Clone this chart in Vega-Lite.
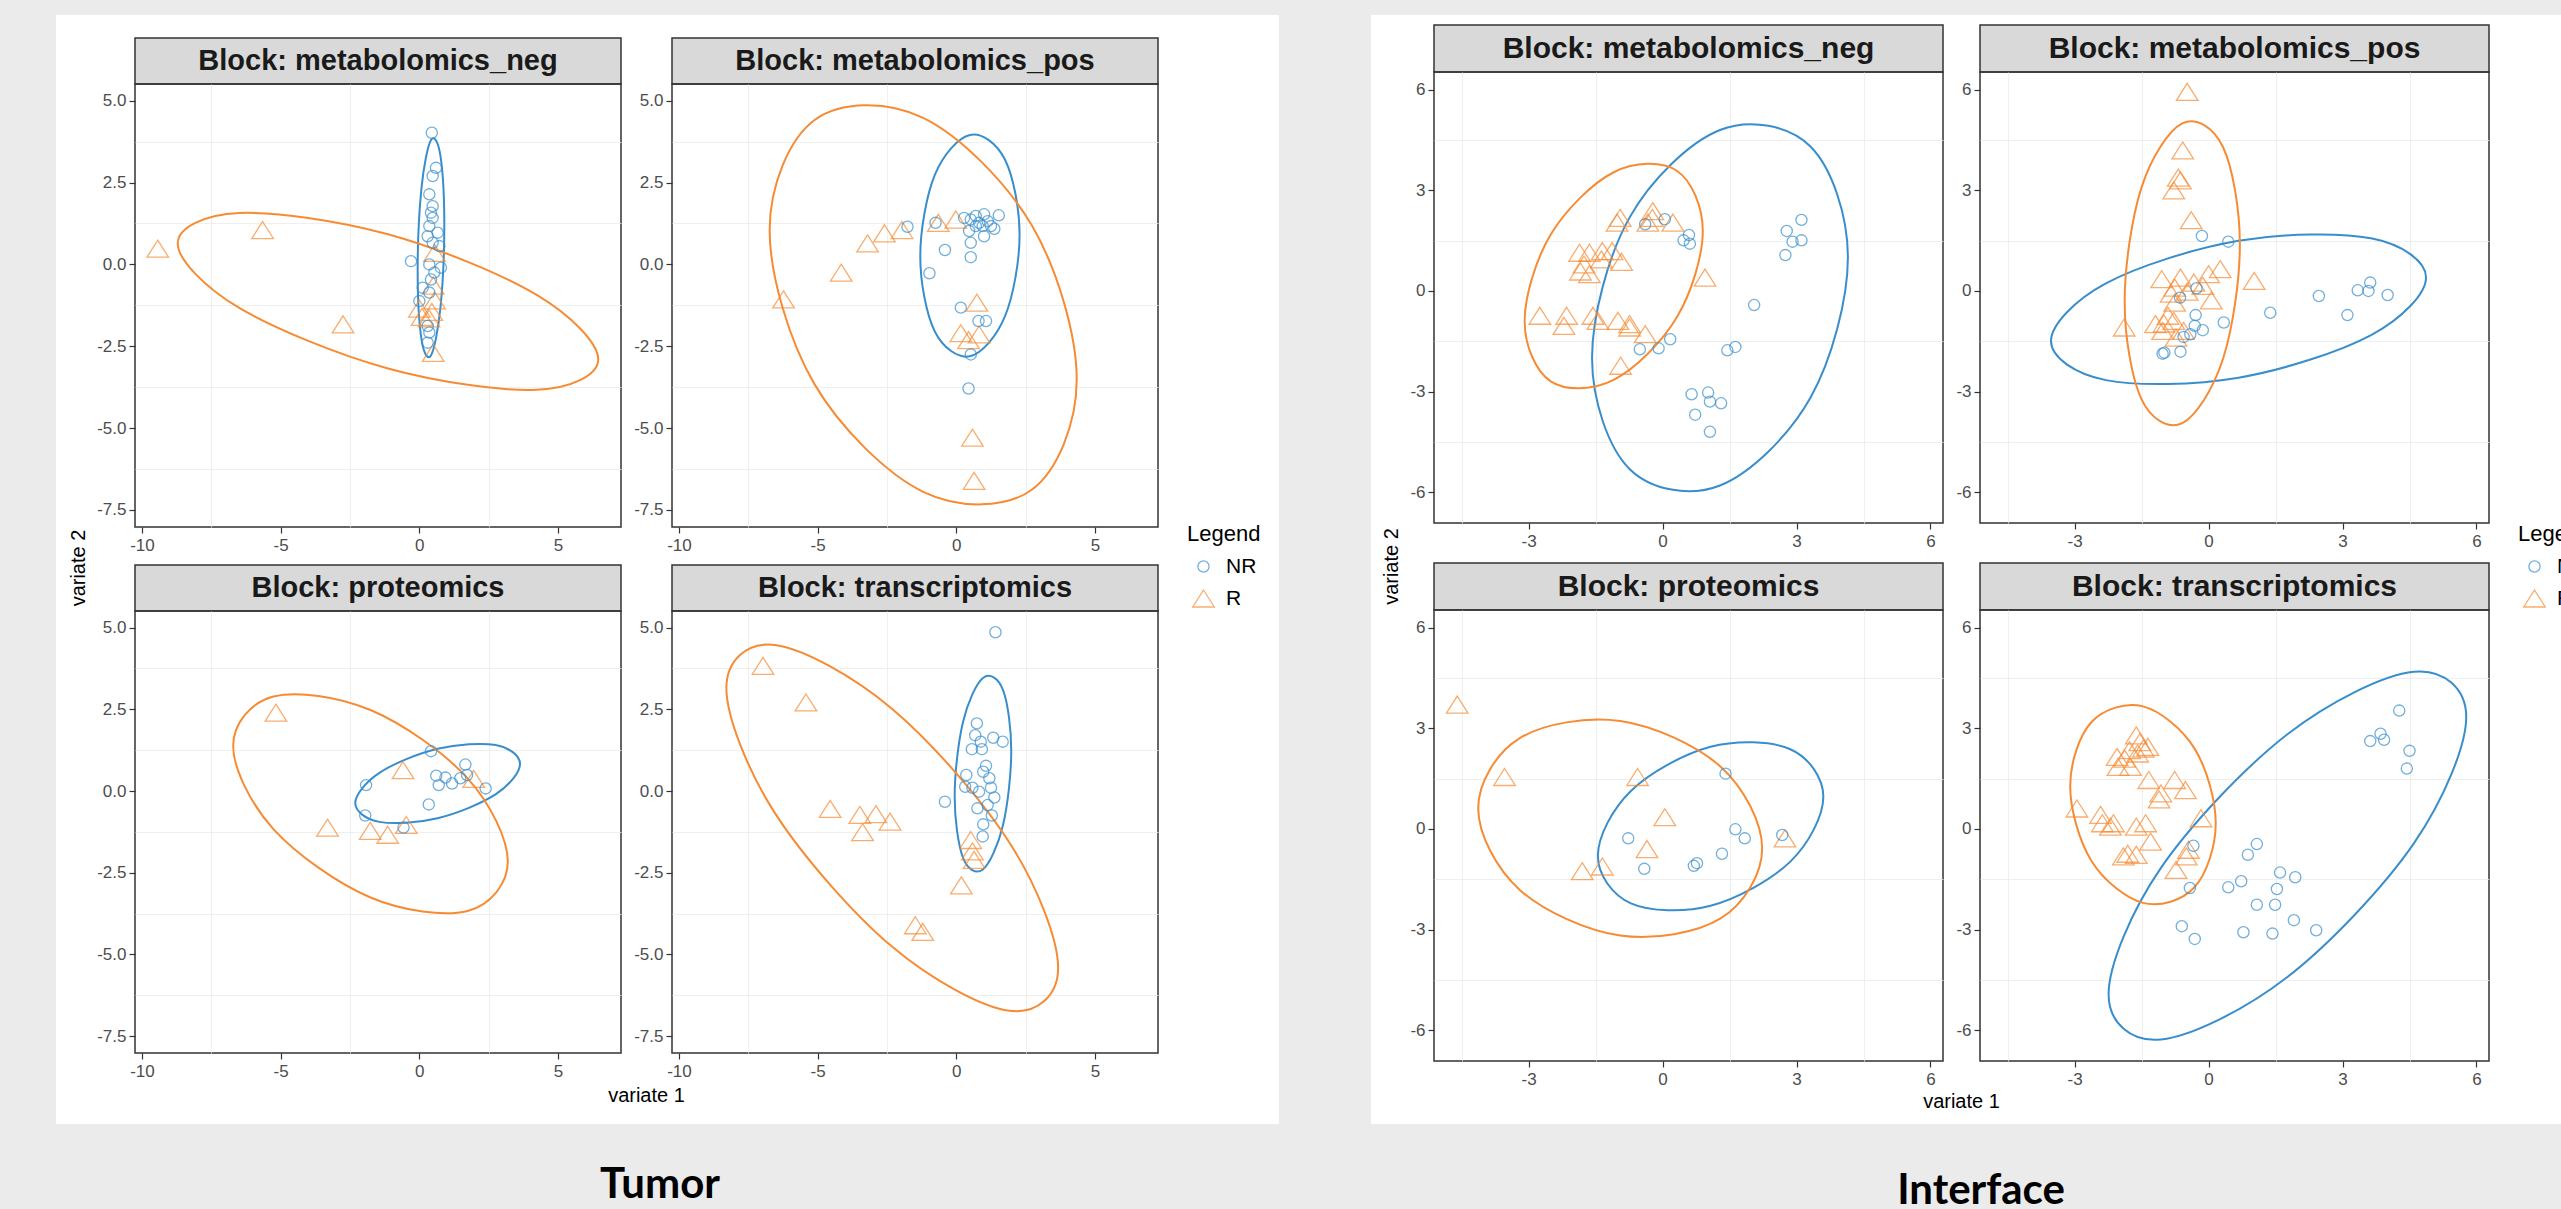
{
"$schema": "https://vega.github.io/schema/vega-lite/v6.json",
"background": "white",
"padding": 0,
"autosize": {"type": "pad"},
"config": {
  "font": "Liberation Sans",
  "view": {"stroke": null},
  "axis": {"grid": true, "gridColor": "#ebebeb", "gridWidth": 1.6, "domain": false, "tickColor": "#333333", "tickSize": 6, "tickWidth": 1.2, "labelFontSize": 17, "labelColor": "#4d4d4d", "labelFont": "Liberation Sans", "labelFlush": false, "labelOverlap": false},
  "axisX": {"labelPadding": 4},
  "axisY": {"labelPadding": 3}
},
"datasets": {
"pts": [
{"p":"T1","g":"R","x":-9.43,"y":0.48},{"p":"T1","g":"R","x":-5.65,"y":1.05},{"p":"T1","g":"R","x":-2.75,"y":-1.83},{"p":"T1","g":"R","x":0.55,"y":0.35},{"p":"T1","g":"R","x":0.5,"y":-0.65},{"p":"T1","g":"R","x":0.55,"y":-1.1},{"p":"T1","g":"R","x":0.0,"y":-1.35},{"p":"T1","g":"R","x":0.1,"y":-1.6},{"p":"T1","g":"R","x":0.35,"y":-1.65},{"p":"T1","g":"R","x":0.45,"y":-1.45},{"p":"T1","g":"R","x":0.5,"y":-2.7},
{"p":"T1","g":"NR","x":0.45,"y":4.02},{"p":"T1","g":"NR","x":0.6,"y":2.95},{"p":"T1","g":"NR","x":0.48,"y":2.7},{"p":"T1","g":"NR","x":0.36,"y":2.14},{"p":"T1","g":"NR","x":0.48,"y":1.78},{"p":"T1","g":"NR","x":0.42,"y":1.58},{"p":"T1","g":"NR","x":0.48,"y":1.42},{"p":"T1","g":"NR","x":0.36,"y":1.17},{"p":"T1","g":"NR","x":0.3,"y":0.86},{"p":"T1","g":"NR","x":0.66,"y":0.97},{"p":"T1","g":"NR","x":0.48,"y":0.66},{"p":"T1","g":"NR","x":0.72,"y":0.56},{"p":"T1","g":"NR","x":-0.3,"y":0.1},{"p":"T1","g":"NR","x":0.36,"y":0.0},{"p":"T1","g":"NR","x":0.78,"y":-0.1},{"p":"T1","g":"NR","x":0.54,"y":-0.25},{"p":"T1","g":"NR","x":0.42,"y":-0.46},{"p":"T1","g":"NR","x":0.12,"y":-0.71},{"p":"T1","g":"NR","x":0.36,"y":-0.86},{"p":"T1","g":"NR","x":0.0,"y":-1.12},{"p":"T1","g":"NR","x":0.3,"y":-1.88},{"p":"T1","g":"NR","x":0.36,"y":-2.08},{"p":"T1","g":"NR","x":0.3,"y":-2.39},
{"p":"T2","g":"R","x":-6.23,"y":-1.07},{"p":"T2","g":"R","x":-4.15,"y":-0.25},{"p":"T2","g":"R","x":-3.2,"y":0.64},{"p":"T2","g":"R","x":-2.59,"y":0.95},{"p":"T2","g":"R","x":-1.96,"y":1.05},{"p":"T2","g":"R","x":-0.65,"y":1.27},{"p":"T2","g":"R","x":-0.02,"y":1.37},{"p":"T2","g":"R","x":0.74,"y":-1.17},{"p":"T2","g":"R","x":0.16,"y":-2.1},{"p":"T2","g":"R","x":0.82,"y":-2.14},{"p":"T2","g":"R","x":0.44,"y":-2.31},{"p":"T2","g":"R","x":0.58,"y":-5.29},{"p":"T2","g":"R","x":0.64,"y":-6.61},
{"p":"T2","g":"NR","x":-1.76,"y":1.15},{"p":"T2","g":"NR","x":-0.75,"y":1.27},{"p":"T2","g":"NR","x":0.28,"y":1.42},{"p":"T2","g":"NR","x":0.52,"y":1.37},{"p":"T2","g":"NR","x":0.7,"y":1.48},{"p":"T2","g":"NR","x":0.82,"y":1.27},{"p":"T2","g":"NR","x":1.0,"y":1.53},{"p":"T2","g":"NR","x":1.13,"y":1.32},{"p":"T2","g":"NR","x":0.95,"y":1.17},{"p":"T2","g":"NR","x":1.53,"y":1.5},{"p":"T2","g":"NR","x":1.37,"y":1.09},{"p":"T2","g":"NR","x":0.46,"y":1.02},{"p":"T2","g":"NR","x":1.0,"y":0.86},{"p":"T2","g":"NR","x":0.52,"y":0.66},{"p":"T2","g":"NR","x":-0.41,"y":0.44},{"p":"T2","g":"NR","x":0.52,"y":0.22},{"p":"T2","g":"NR","x":-0.97,"y":-0.27},{"p":"T2","g":"NR","x":0.16,"y":-1.32},{"p":"T2","g":"NR","x":0.8,"y":-1.73},{"p":"T2","g":"NR","x":1.07,"y":-1.73},{"p":"T2","g":"NR","x":0.52,"y":-2.75},{"p":"T2","g":"NR","x":0.44,"y":-3.79},{"p":"T2","g":"NR","x":0.7,"y":1.17},{"p":"T2","g":"NR","x":1.25,"y":1.17},
{"p":"T3","g":"R","x":-5.17,"y":2.4},{"p":"T3","g":"R","x":-0.59,"y":0.64},{"p":"T3","g":"R","x":1.96,"y":0.37},{"p":"T3","g":"R","x":-3.31,"y":-1.12},{"p":"T3","g":"R","x":-1.77,"y":-1.22},{"p":"T3","g":"R","x":-1.14,"y":-1.34},{"p":"T3","g":"R","x":-0.47,"y":-1.04},
{"p":"T3","g":"NR","x":0.42,"y":1.22},{"p":"T3","g":"NR","x":1.66,"y":0.81},{"p":"T3","g":"NR","x":-1.92,"y":0.18},{"p":"T3","g":"NR","x":0.61,"y":0.47},{"p":"T3","g":"NR","x":0.94,"y":0.41},{"p":"T3","g":"NR","x":0.7,"y":0.18},{"p":"T3","g":"NR","x":1.18,"y":0.23},{"p":"T3","g":"NR","x":1.48,"y":0.39},{"p":"T3","g":"NR","x":2.39,"y":0.08},{"p":"T3","g":"NR","x":0.34,"y":-0.41},{"p":"T3","g":"NR","x":-1.95,"y":-0.75},{"p":"T3","g":"NR","x":-0.57,"y":-1.12},{"p":"T3","g":"NR","x":1.72,"y":0.49},
{"p":"T4","g":"R","x":-6.97,"y":3.83},{"p":"T4","g":"R","x":-5.42,"y":2.71},{"p":"T4","g":"R","x":-4.55,"y":-0.55},{"p":"T4","g":"R","x":-3.48,"y":-0.73},{"p":"T4","g":"R","x":-2.9,"y":-0.71},{"p":"T4","g":"R","x":-2.39,"y":-0.94},{"p":"T4","g":"R","x":-3.38,"y":-1.26},{"p":"T4","g":"R","x":0.52,"y":-1.5},{"p":"T4","g":"R","x":0.58,"y":-1.85},{"p":"T4","g":"R","x":0.64,"y":-2.11},{"p":"T4","g":"R","x":0.18,"y":-2.89},{"p":"T4","g":"R","x":-1.48,"y":-4.11},{"p":"T4","g":"R","x":-1.21,"y":-4.31},
{"p":"T4","g":"NR","x":1.41,"y":4.86},{"p":"T4","g":"NR","x":0.74,"y":2.07},{"p":"T4","g":"NR","x":0.68,"y":1.71},{"p":"T4","g":"NR","x":1.33,"y":1.63},{"p":"T4","g":"NR","x":1.67,"y":1.51},{"p":"T4","g":"NR","x":0.88,"y":1.51},{"p":"T4","g":"NR","x":0.56,"y":1.28},{"p":"T4","g":"NR","x":0.92,"y":1.28},{"p":"T4","g":"NR","x":1.07,"y":0.77},{"p":"T4","g":"NR","x":0.97,"y":0.59},{"p":"T4","g":"NR","x":0.36,"y":0.49},{"p":"T4","g":"NR","x":1.19,"y":0.39},{"p":"T4","g":"NR","x":0.32,"y":0.13},{"p":"T4","g":"NR","x":1.25,"y":0.1},{"p":"T4","g":"NR","x":0.82,"y":-0.02},{"p":"T4","g":"NR","x":1.37,"y":-0.2},{"p":"T4","g":"NR","x":-0.41,"y":-0.33},{"p":"T4","g":"NR","x":1.13,"y":-0.43},{"p":"T4","g":"NR","x":0.76,"y":-0.53},{"p":"T4","g":"NR","x":1.28,"y":-0.75},{"p":"T4","g":"NR","x":0.97,"y":-1.02},{"p":"T4","g":"NR","x":0.95,"y":-1.39},{"p":"T4","g":"NR","x":0.58,"y":0.1},
{"p":"I1","g":"R","x":-2.75,"y":-0.74},{"p":"I1","g":"R","x":-2.15,"y":-0.74},{"p":"I1","g":"R","x":-2.21,"y":-1.04},{"p":"I1","g":"R","x":-1.56,"y":-0.74},{"p":"I1","g":"R","x":-1.45,"y":-0.89},{"p":"I1","g":"R","x":-1.0,"y":-0.89},{"p":"I1","g":"R","x":-0.74,"y":-0.99},{"p":"I1","g":"R","x":-0.74,"y":-1.09},{"p":"I1","g":"R","x":-0.39,"y":-1.29},{"p":"I1","g":"R","x":-0.94,"y":-2.23},{"p":"I1","g":"R","x":-1.86,"y":1.14},{"p":"I1","g":"R","x":-1.64,"y":1.14},{"p":"I1","g":"R","x":-1.35,"y":1.19},{"p":"I1","g":"R","x":-1.13,"y":1.19},{"p":"I1","g":"R","x":-0.92,"y":0.87},{"p":"I1","g":"R","x":-1.76,"y":0.79},{"p":"I1","g":"R","x":-1.84,"y":0.58},{"p":"I1","g":"R","x":-1.64,"y":0.5},{"p":"I1","g":"R","x":-0.95,"y":2.18},{"p":"I1","g":"R","x":-1.02,"y":2.04},{"p":"I1","g":"R","x":-0.22,"y":2.38},{"p":"I1","g":"R","x":-0.23,"y":2.18},{"p":"I1","g":"R","x":-0.33,"y":2.04},{"p":"I1","g":"R","x":0.23,"y":2.04},{"p":"I1","g":"R","x":0.95,"y":0.4},{"p":"I1","g":"R","x":-1.37,"y":0.94},
{"p":"I1","g":"NR","x":-0.39,"y":1.99},{"p":"I1","g":"NR","x":0.05,"y":2.14},{"p":"I1","g":"NR","x":0.59,"y":1.67},{"p":"I1","g":"NR","x":0.47,"y":1.51},{"p":"I1","g":"NR","x":0.61,"y":1.41},{"p":"I1","g":"NR","x":2.78,"y":1.79},{"p":"I1","g":"NR","x":3.11,"y":2.12},{"p":"I1","g":"NR","x":2.91,"y":1.47},{"p":"I1","g":"NR","x":3.11,"y":1.51},{"p":"I1","g":"NR","x":2.75,"y":1.07},{"p":"I1","g":"NR","x":2.05,"y":-0.42},{"p":"I1","g":"NR","x":0.17,"y":-1.44},{"p":"I1","g":"NR","x":-0.09,"y":-1.71},{"p":"I1","g":"NR","x":-0.51,"y":-1.74},{"p":"I1","g":"NR","x":1.45,"y":-1.77},{"p":"I1","g":"NR","x":1.63,"y":-1.67},{"p":"I1","g":"NR","x":0.65,"y":-3.08},{"p":"I1","g":"NR","x":1.02,"y":-3.03},{"p":"I1","g":"NR","x":1.06,"y":-3.3},{"p":"I1","g":"NR","x":1.31,"y":-3.35},{"p":"I1","g":"NR","x":0.73,"y":-3.69},{"p":"I1","g":"NR","x":1.06,"y":-4.2},
{"p":"I2","g":"R","x":-0.48,"y":5.94},{"p":"I2","g":"R","x":-0.58,"y":4.19},{"p":"I2","g":"R","x":-0.68,"y":3.38},{"p":"I2","g":"R","x":-0.63,"y":3.3},{"p":"I2","g":"R","x":-0.78,"y":3.0},{"p":"I2","g":"R","x":-0.39,"y":2.11},{"p":"I2","g":"R","x":0.26,"y":0.65},{"p":"I2","g":"R","x":0.0,"y":0.5},{"p":"I2","g":"R","x":1.02,"y":0.3},{"p":"I2","g":"R","x":-1.05,"y":0.35},{"p":"I2","g":"R","x":-0.63,"y":0.4},{"p":"I2","g":"R","x":-0.33,"y":0.25},{"p":"I2","g":"R","x":-0.13,"y":0.15},{"p":"I2","g":"R","x":-0.76,"y":0.1},{"p":"I2","g":"R","x":-0.48,"y":-0.02},{"p":"I2","g":"R","x":-0.84,"y":-0.08},{"p":"I2","g":"R","x":0.06,"y":-0.28},{"p":"I2","g":"R","x":-0.76,"y":-0.35},{"p":"I2","g":"R","x":-0.91,"y":-0.74},{"p":"I2","g":"R","x":-1.19,"y":-0.99},{"p":"I2","g":"R","x":-1.0,"y":-0.97},{"p":"I2","g":"R","x":-0.78,"y":-0.89},{"p":"I2","g":"R","x":-1.89,"y":-1.09},{"p":"I2","g":"R","x":-1.03,"y":-1.19},{"p":"I2","g":"R","x":-0.73,"y":-1.39},{"p":"I2","g":"R","x":-0.56,"y":-1.19},
{"p":"I2","g":"NR","x":-0.15,"y":1.64},{"p":"I2","g":"NR","x":0.44,"y":1.47},{"p":"I2","g":"NR","x":-0.27,"y":0.08},{"p":"I2","g":"NR","x":-0.64,"y":-0.2},{"p":"I2","g":"NR","x":2.47,"y":-0.15},{"p":"I2","g":"NR","x":3.34,"y":0.02},{"p":"I2","g":"NR","x":3.62,"y":0.25},{"p":"I2","g":"NR","x":3.58,"y":0.0},{"p":"I2","g":"NR","x":4.01,"y":-0.12},{"p":"I2","g":"NR","x":1.38,"y":-0.65},{"p":"I2","g":"NR","x":3.11,"y":-0.72},{"p":"I2","g":"NR","x":-0.29,"y":-0.72},{"p":"I2","g":"NR","x":0.34,"y":-0.94},{"p":"I2","g":"NR","x":-0.31,"y":-1.04},{"p":"I2","g":"NR","x":-0.13,"y":-1.17},{"p":"I2","g":"NR","x":-0.41,"y":-1.29},{"p":"I2","g":"NR","x":-0.56,"y":-1.37},{"p":"I2","g":"NR","x":-0.99,"y":-1.84},{"p":"I2","g":"NR","x":-0.63,"y":-1.81},{"p":"I2","g":"NR","x":-1.03,"y":-1.87},
{"p":"I3","g":"R","x":-4.6,"y":3.71},{"p":"I3","g":"R","x":-3.54,"y":1.55},{"p":"I3","g":"R","x":-0.56,"y":1.55},{"p":"I3","g":"R","x":0.05,"y":0.35},{"p":"I3","g":"R","x":-0.35,"y":-0.6},{"p":"I3","g":"R","x":-1.35,"y":-1.12},{"p":"I3","g":"R","x":-1.8,"y":-1.26},{"p":"I3","g":"R","x":2.74,"y":-0.28},
{"p":"I3","g":"NR","x":1.41,"y":1.65},{"p":"I3","g":"NR","x":-0.77,"y":-0.28},{"p":"I3","g":"NR","x":1.63,"y":-0.01},{"p":"I3","g":"NR","x":1.84,"y":-0.28},{"p":"I3","g":"NR","x":2.68,"y":-0.18},{"p":"I3","g":"NR","x":1.33,"y":-0.74},{"p":"I3","g":"NR","x":0.77,"y":-1.02},{"p":"I3","g":"NR","x":0.7,"y":-1.1},{"p":"I3","g":"NR","x":-0.41,"y":-1.19},
{"p":"I4","g":"R","x":-2.95,"y":0.61},{"p":"I4","g":"R","x":-2.42,"y":0.42},{"p":"I4","g":"R","x":-2.38,"y":0.17},{"p":"I4","g":"R","x":-2.2,"y":0.07},{"p":"I4","g":"R","x":-2.13,"y":0.17},{"p":"I4","g":"R","x":-2.05,"y":2.15},{"p":"I4","g":"R","x":-2.03,"y":1.85},{"p":"I4","g":"R","x":-1.88,"y":2.1},{"p":"I4","g":"R","x":-1.75,"y":1.85},{"p":"I4","g":"R","x":-1.62,"y":2.79},{"p":"I4","g":"R","x":-1.54,"y":2.59},{"p":"I4","g":"R","x":-1.77,"y":2.35},{"p":"I4","g":"R","x":-1.59,"y":2.25},{"p":"I4","g":"R","x":-1.36,"y":2.45},{"p":"I4","g":"R","x":-1.46,"y":2.4},{"p":"I4","g":"R","x":-1.34,"y":1.46},{"p":"I4","g":"R","x":-0.76,"y":1.46},{"p":"I4","g":"R","x":-0.52,"y":1.16},{"p":"I4","g":"R","x":-1.07,"y":1.06},{"p":"I4","g":"R","x":-1.11,"y":0.88},{"p":"I4","g":"R","x":-0.17,"y":0.32},{"p":"I4","g":"R","x":-1.62,"y":0.07},{"p":"I4","g":"R","x":-1.41,"y":0.17},{"p":"I4","g":"R","x":-1.3,"y":-0.38},{"p":"I4","g":"R","x":-1.91,"y":-0.82},{"p":"I4","g":"R","x":-1.81,"y":-0.74},{"p":"I4","g":"R","x":-1.62,"y":-0.77},{"p":"I4","g":"R","x":-0.45,"y":-0.62},{"p":"I4","g":"R","x":-0.5,"y":-0.82},{"p":"I4","g":"R","x":-0.73,"y":-1.22},
{"p":"I4","g":"NR","x":4.27,"y":3.53},{"p":"I4","g":"NR","x":3.85,"y":2.84},{"p":"I4","g":"NR","x":3.62,"y":2.62},{"p":"I4","g":"NR","x":3.93,"y":2.66},{"p":"I4","g":"NR","x":4.5,"y":2.33},{"p":"I4","g":"NR","x":4.44,"y":1.8},{"p":"I4","g":"NR","x":-0.34,"y":-0.5},{"p":"I4","g":"NR","x":1.08,"y":-0.45},{"p":"I4","g":"NR","x":0.88,"y":-0.77},{"p":"I4","g":"NR","x":1.6,"y":-1.3},{"p":"I4","g":"NR","x":1.94,"y":-1.44},{"p":"I4","g":"NR","x":0.73,"y":-1.56},{"p":"I4","g":"NR","x":0.44,"y":-1.74},{"p":"I4","g":"NR","x":1.53,"y":-1.79},{"p":"I4","g":"NR","x":-0.42,"y":-1.76},{"p":"I4","g":"NR","x":1.08,"y":-2.26},{"p":"I4","g":"NR","x":1.49,"y":-2.26},{"p":"I4","g":"NR","x":1.91,"y":-2.72},{"p":"I4","g":"NR","x":2.41,"y":-3.02},{"p":"I4","g":"NR","x":0.78,"y":-3.08},{"p":"I4","g":"NR","x":1.43,"y":-3.12},{"p":"I4","g":"NR","x":-0.6,"y":-2.9},{"p":"I4","g":"NR","x":-0.31,"y":-3.28}
],
"ell": [
{"p":"T1","g":"NR","i":0,"x":0.90,"y":1.20},{"p":"T1","g":"NR","i":1,"x":0.76,"y":3.32},{"p":"T1","g":"NR","i":2,"x":0.42,"y":3.80},{"p":"T1","g":"NR","i":3,"x":0.08,"y":2.35},{"p":"T1","g":"NR","i":4,"x":-0.06,"y":-0.18},{"p":"T1","g":"NR","i":5,"x":0.08,"y":-2.30},{"p":"T1","g":"NR","i":6,"x":0.42,"y":-2.78},{"p":"T1","g":"NR","i":7,"x":0.76,"y":-1.33},
{"p":"T1","g":"R","i":0,"x":6.45,"y":-2.90},{"p":"T1","g":"R","i":1,"x":4.23,"y":-0.93},{"p":"T1","g":"R","i":2,"x":-1.13,"y":0.92},{"p":"T1","g":"R","i":3,"x":-6.49,"y":1.57},{"p":"T1","g":"R","i":4,"x":-8.71,"y":0.64},{"p":"T1","g":"R","i":5,"x":-6.49,"y":-1.33},{"p":"T1","g":"R","i":6,"x":-1.13,"y":-3.18},{"p":"T1","g":"R","i":7,"x":4.23,"y":-3.83},
{"p":"T2","g":"NR","i":0,"x":2.28,"y":0.905},{"p":"T2","g":"NR","i":1,"x":1.756,"y":3.198},{"p":"T2","g":"NR","i":2,"x":0.49,"y":3.955},{"p":"T2","g":"NR","i":3,"x":-0.776,"y":2.732},{"p":"T2","g":"NR","i":4,"x":-1.30,"y":0.245},{"p":"T2","g":"NR","i":5,"x":-0.776,"y":-2.048},{"p":"T2","g":"NR","i":6,"x":0.49,"y":-2.805},{"p":"T2","g":"NR","i":7,"x":1.756,"y":-1.582},
{"p":"T2","g":"R","i":0,"x":4.34,"y":-3.51},{"p":"T2","g":"R","i":1,"x":2.719,"y":1.194},{"p":"T2","g":"R","i":2,"x":-1.195,"y":4.475},{"p":"T2","g":"R","i":3,"x":-5.109,"y":4.411},{"p":"T2","g":"R","i":4,"x":-6.73,"y":1.04},{"p":"T2","g":"R","i":5,"x":-5.109,"y":-3.664},{"p":"T2","g":"R","i":6,"x":-1.195,"y":-6.945},{"p":"T2","g":"R","i":7,"x":2.719,"y":-6.881},
{"p":"T3","g":"NR","i":0,"x":3.63,"y":0.83},{"p":"T3","g":"NR","i":1,"x":2.76,"y":1.405},{"p":"T3","g":"NR","i":2,"x":0.66,"y":1.292},{"p":"T3","g":"NR","i":3,"x":-1.44,"y":0.557},{"p":"T3","g":"NR","i":4,"x":-2.31,"y":-0.37},{"p":"T3","g":"NR","i":5,"x":-1.44,"y":-0.945},{"p":"T3","g":"NR","i":6,"x":0.66,"y":-0.832},{"p":"T3","g":"NR","i":7,"x":2.76,"y":-0.097},
{"p":"T3","g":"R","i":0,"x":3.19,"y":-2.16},{"p":"T3","g":"R","i":1,"x":1.74,"y":0.388},{"p":"T3","g":"R","i":2,"x":-1.76,"y":2.48},{"p":"T3","g":"R","i":3,"x":-5.26,"y":2.891},{"p":"T3","g":"R","i":4,"x":-6.71,"y":1.38},{"p":"T3","g":"R","i":5,"x":-5.26,"y":-1.168},{"p":"T3","g":"R","i":6,"x":-1.76,"y":-3.26},{"p":"T3","g":"R","i":7,"x":1.74,"y":-3.671},
{"p":"T4","g":"NR","i":0,"x":1.98,"y":1.23},{"p":"T4","g":"NR","i":1,"x":1.681,"y":3.097},{"p":"T4","g":"NR","i":2,"x":0.96,"y":3.46},{"p":"T4","g":"NR","i":3,"x":0.239,"y":2.107},{"p":"T4","g":"NR","i":4,"x":-0.06,"y":-0.17},{"p":"T4","g":"NR","i":5,"x":0.239,"y":-2.037},{"p":"T4","g":"NR","i":6,"x":0.96,"y":-2.40},{"p":"T4","g":"NR","i":7,"x":1.681,"y":-1.047},
{"p":"T4","g":"R","i":0,"x":3.67,"y":-5.41},{"p":"T4","g":"R","i":1,"x":1.918,"y":-1.583},{"p":"T4","g":"R","i":2,"x":-2.31,"y":2.51},{"p":"T4","g":"R","i":3,"x":-6.538,"y":4.47},{"p":"T4","g":"R","i":4,"x":-8.29,"y":3.15},{"p":"T4","g":"R","i":5,"x":-6.538,"y":-0.677},{"p":"T4","g":"R","i":6,"x":-2.31,"y":-4.77},{"p":"T4","g":"R","i":7,"x":1.918,"y":-6.73},
{"p":"I1","g":"NR","i":0,"x":4.15,"y":1.0},{"p":"I1","g":"NR","i":1,"x":3.311,"y":4.308},{"p":"I1","g":"NR","i":2,"x":1.285,"y":4.80},{"p":"I1","g":"NR","i":3,"x":-0.741,"y":2.187},{"p":"I1","g":"NR","i":4,"x":-1.58,"y":-2.0},{"p":"I1","g":"NR","i":5,"x":-0.741,"y":-5.308},{"p":"I1","g":"NR","i":6,"x":1.285,"y":-5.80},{"p":"I1","g":"NR","i":7,"x":3.311,"y":-3.187},
{"p":"I1","g":"R","i":0,"x":0.90,"y":1.79},{"p":"I1","g":"R","i":1,"x":0.316,"y":3.585},{"p":"I1","g":"R","i":2,"x":-1.095,"y":3.54},{"p":"I1","g":"R","i":3,"x":-2.506,"y":1.682},{"p":"I1","g":"R","i":4,"x":-3.09,"y":-0.90},{"p":"I1","g":"R","i":5,"x":-2.506,"y":-2.695},{"p":"I1","g":"R","i":6,"x":-1.095,"y":-2.65},{"p":"I1","g":"R","i":7,"x":0.316,"y":-0.792},
{"p":"I2","g":"NR","i":0,"x":4.87,"y":0.405},{"p":"I2","g":"NR","i":1,"x":3.64,"y":1.569},{"p":"I2","g":"NR","i":2,"x":0.67,"y":1.495},{"p":"I2","g":"NR","i":3,"x":-2.30,"y":0.226},{"p":"I2","g":"NR","i":4,"x":-3.53,"y":-1.495},{"p":"I2","g":"NR","i":5,"x":-2.30,"y":-2.659},{"p":"I2","g":"NR","i":6,"x":0.67,"y":-2.585},{"p":"I2","g":"NR","i":7,"x":3.64,"y":-1.316},
{"p":"I2","g":"R","i":0,"x":0.70,"y":1.38},{"p":"I2","g":"R","i":1,"x":0.322,"y":4.292},{"p":"I2","g":"R","i":2,"x":-0.59,"y":5.0},{"p":"I2","g":"R","i":3,"x":-1.502,"y":3.09},{"p":"I2","g":"R","i":4,"x":-1.88,"y":-0.32},{"p":"I2","g":"R","i":5,"x":-1.502,"y":-3.232},{"p":"I2","g":"R","i":6,"x":-0.59,"y":-3.94},{"p":"I2","g":"R","i":7,"x":0.322,"y":-2.03},
{"p":"I3","g":"NR","i":0,"x":3.60,"y":0.96},{"p":"I3","g":"NR","i":1,"x":2.86,"y":2.378},{"p":"I3","g":"NR","i":2,"x":1.075,"y":2.45},{"p":"I3","g":"NR","i":3,"x":-0.71,"y":1.134},{"p":"I3","g":"NR","i":4,"x":-1.45,"y":-0.80},{"p":"I3","g":"NR","i":5,"x":-0.71,"y":-2.218},{"p":"I3","g":"NR","i":6,"x":1.075,"y":-2.29},{"p":"I3","g":"NR","i":7,"x":2.86,"y":-0.974},
{"p":"I3","g":"R","i":0,"x":2.23,"y":-0.58},{"p":"I3","g":"R","i":1,"x":1.299,"y":1.858},{"p":"I3","g":"R","i":2,"x":-0.95,"y":3.22},{"p":"I3","g":"R","i":3,"x":-3.199,"y":2.707},{"p":"I3","g":"R","i":4,"x":-4.13,"y":0.62},{"p":"I3","g":"R","i":5,"x":-3.199,"y":-1.818},{"p":"I3","g":"R","i":6,"x":-0.95,"y":-3.18},{"p":"I3","g":"R","i":7,"x":1.299,"y":-2.667},
{"p":"I4","g":"NR","i":0,"x":5.77,"y":3.34},{"p":"I4","g":"NR","i":1,"x":4.597,"y":4.689},{"p":"I4","g":"NR","i":2,"x":1.765,"y":2.825},{"p":"I4","g":"NR","i":3,"x":-1.067,"y":-1.159},{"p":"I4","g":"NR","i":4,"x":-2.24,"y":-4.93},{"p":"I4","g":"NR","i":5,"x":-1.067,"y":-6.279},{"p":"I4","g":"NR","i":6,"x":1.765,"y":-4.415},{"p":"I4","g":"NR","i":7,"x":4.597,"y":-0.431},
{"p":"I4","g":"R","i":0,"x":0.16,"y":0.17},{"p":"I4","g":"R","i":1,"x":-0.317,"y":2.404},{"p":"I4","g":"R","i":2,"x":-1.47,"y":3.655},{"p":"I4","g":"R","i":3,"x":-2.623,"y":3.189},{"p":"I4","g":"R","i":4,"x":-3.10,"y":1.28},{"p":"I4","g":"R","i":5,"x":-2.623,"y":-0.954},{"p":"I4","g":"R","i":6,"x":-1.47,"y":-2.205},{"p":"I4","g":"R","i":7,"x":-0.317,"y":-1.739}
]
},
"spacing": 0,
"resolve": {"scale": {"color": "independent", "shape": "independent", "stroke": "independent"}, "legend": {"color": "independent", "shape": "independent", "stroke": "independent"}},
"hconcat": [
{
"columns": 7,
"spacing": 0,
"align": "none",
"bounds": "flush",
"resolve": {"scale": {"color": "independent", "shape": "independent", "stroke": "independent"}, "legend": {"color": "independent", "shape": "independent", "stroke": "independent"}},
"concat": [
{"width":56,"height":15,"data":{"values":[{}]},"mark":{"type":"text","text":""},"view":{"fill":"#ebebeb","stroke":null}},
{"width":79,"height":15,"data":{"values":[{}]},"mark":{"type":"text","text":""},"view":{"fill":"#ebebeb","stroke":null}},
{"width":486,"height":15,"data":{"values":[{}]},"mark":{"type":"text","text":""},"view":{"fill":"#ebebeb","stroke":null}},
{"width":51,"height":15,"data":{"values":[{}]},"mark":{"type":"text","text":""},"view":{"fill":"#ebebeb","stroke":null}},
{"width":486,"height":15,"data":{"values":[{}]},"mark":{"type":"text","text":""},"view":{"fill":"#ebebeb","stroke":null}},
{"width":121,"height":15,"data":{"values":[{}]},"mark":{"type":"text","text":""},"view":{"fill":"#ebebeb","stroke":null}},
{"width":92,"height":15,"data":{"values":[{}]},"mark":{"type":"text","text":""},"view":{"fill":"#ebebeb","stroke":null}},

{"width":56,"height":23,"data":{"values":[{}]},"mark":{"type":"text","text":""},"view":{"fill":"#ebebeb","stroke":null}},
{"width":79,"height":23,"data":{"values":[{}]},"mark":{"type":"text","text":""}},
{"width":486,"height":23,"data":{"values":[{}]},"mark":{"type":"text","text":""}},
{"width":51,"height":23,"data":{"values":[{}]},"mark":{"type":"text","text":""}},
{"width":486,"height":23,"data":{"values":[{}]},"mark":{"type":"text","text":""}},
{"width":121,"height":23,"data":{"values":[{}]},"mark":{"type":"text","text":""}},
{"width":92,"height":23,"data":{"values":[{}]},"mark":{"type":"text","text":""},"view":{"fill":"#ebebeb","stroke":null}},

{"width":56,"height":46,"data":{"values":[{}]},"mark":{"type":"text","text":""},"view":{"fill":"#ebebeb","stroke":null}},
{"width":79,"height":46,"data":{"values":[{}]},"mark":{"type":"text","text":""}},
{"width":486,"height":46,"data":{"values":[{"t":"Block: metabolomics_neg"}]},"mark":{"type":"text","fontSize":29,"fontWeight":"bold","color":"#1a1a1a"},"encoding":{"text":{"field":"t"}},"view":{"fill":"#d9d9d9","stroke":"#333333","strokeWidth":1.5}},
{"width":51,"height":46,"data":{"values":[{}]},"mark":{"type":"text","text":""}},
{"width":486,"height":46,"data":{"values":[{"t":"Block: metabolomics_pos"}]},"mark":{"type":"text","fontSize":29,"fontWeight":"bold","color":"#1a1a1a"},"encoding":{"text":{"field":"t"}},"view":{"fill":"#d9d9d9","stroke":"#333333","strokeWidth":1.5}},
{"width":121,"height":46,"data":{"values":[{}]},"mark":{"type":"text","text":""}},
{"width":92,"height":46,"data":{"values":[{}]},"mark":{"type":"text","text":""},"view":{"fill":"#ebebeb","stroke":null}},

{"width":56,"height":443,"data":{"values":[{}]},"mark":{"type":"text","text":""},"view":{"fill":"#ebebeb","stroke":null}},
{"width":79,"height":443,"data":{"values":[{}]},"mark":{"type":"text","text":""}},
{"width":486,"height":443,"view":{"stroke":"#333333","strokeWidth":1.5},
 "layer":[
  {"data":{"name":"ell"},"transform":[{"filter":"datum.p == 'T1'"}],"mark":{"type":"line","interpolate":"cardinal-closed","strokeWidth":2},
   "encoding":{"x":{"field":"x","type":"quantitative","scale":{"domain":[-10.25,7.27],"nice":false,"zero":false},"axis":{"orient":"top","values":[-7.5,-2.5,2.5],"labels":false,"ticks":false,"gridWidth":0.8,"title":null}},
    "y":{"field":"y","type":"quantitative","scale":{"domain":[-8.02,5.51],"nice":false,"zero":false},"axis":{"orient":"right","values":[-6.25,-3.75,-1.25,1.25,3.75],"labels":false,"ticks":false,"gridWidth":0.8,"title":null}},
    "stroke":{"field":"g","type":"nominal","scale":{"domain":["R","NR"],"range":["#F68B33","#388ECC"]},"legend":null},
    "order":{"field":"i","type":"quantitative"}}},
  {"data":{"name":"pts"},"transform":[{"filter":"datum.p == 'T1'"}],"mark":{"type":"point","filled":false,"size":125,"strokeWidth":1.3},
   "encoding":{"x":{"field":"x","type":"quantitative","scale":{"domain":[-10.25,7.27],"nice":false,"zero":false},"axis":{"orient":"bottom","values":[-10,-5,0,5],"labelExpr":"replace(datum.label, '−', '-')","title":null}},
    "y":{"field":"y","type":"quantitative","scale":{"domain":[-8.02,5.51],"nice":false,"zero":false},"axis":{"orient":"left","values":[-7.5,-5,-2.5,0,2.5,5],"format":".1f","labelExpr":"replace(datum.label, '−', '-')","title":null}},
    "color":{"field":"g","type":"nominal","scale":{"domain":["NR","R"],"range":["#388ECC","#F68B33"]},"legend":null},
    "shape":{"field":"g","type":"nominal","scale":{"domain":["NR","R"],"range":["circle","M0,-1.52L1.93,1.52L-1.93,1.52Z"]},"legend":null}}}
 ],
 "resolve":{"axis":{"x":"independent","y":"independent"}}},
{"width":51,"height":443,"data":{"values":[{}]},"mark":{"type":"text","text":""}},
{"width":486,"height":443,"view":{"stroke":"#333333","strokeWidth":1.5},
 "layer":[
  {"data":{"name":"ell"},"transform":[{"filter":"datum.p == 'T2'"}],"mark":{"type":"line","interpolate":"cardinal-closed","strokeWidth":2},
   "encoding":{"x":{"field":"x","type":"quantitative","scale":{"domain":[-10.25,7.27],"nice":false,"zero":false},"axis":{"orient":"top","values":[-7.5,-2.5,2.5],"labels":false,"ticks":false,"gridWidth":0.8,"title":null}},
    "y":{"field":"y","type":"quantitative","scale":{"domain":[-8.02,5.51],"nice":false,"zero":false},"axis":{"orient":"right","values":[-6.25,-3.75,-1.25,1.25,3.75],"labels":false,"ticks":false,"gridWidth":0.8,"title":null}},
    "stroke":{"field":"g","type":"nominal","scale":{"domain":["R","NR"],"range":["#F68B33","#388ECC"]},"legend":null},
    "order":{"field":"i","type":"quantitative"}}},
  {"data":{"name":"pts"},"transform":[{"filter":"datum.p == 'T2'"}],"mark":{"type":"point","filled":false,"size":125,"strokeWidth":1.3},
   "encoding":{"x":{"field":"x","type":"quantitative","scale":{"domain":[-10.25,7.27],"nice":false,"zero":false},"axis":{"orient":"bottom","values":[-10,-5,0,5],"labelExpr":"replace(datum.label, '−', '-')","title":null}},
    "y":{"field":"y","type":"quantitative","scale":{"domain":[-8.02,5.51],"nice":false,"zero":false},"axis":{"orient":"left","values":[-7.5,-5,-2.5,0,2.5,5],"format":".1f","labelExpr":"replace(datum.label, '−', '-')","title":null}},
    "color":{"field":"g","type":"nominal","scale":{"domain":["NR","R"],"range":["#388ECC","#F68B33"]},"legend":{"orient":"none","legendX":515,"legendY":440,"title":"Legend","titleFontSize":22,"titleFontWeight":"normal","titleColor":"#000000","labelFontSize":21,"labelColor":"#000000","symbolSize":125,"symbolStrokeWidth":1.3,"rowPadding":10,"titlePadding":10,"labelOffset":12,"padding":0,"symbolOffset":6}},
    "shape":{"field":"g","type":"nominal","scale":{"domain":["NR","R"],"range":["circle","M0,-1.52L1.93,1.52L-1.93,1.52Z"]},"legend":{"orient":"none","legendX":515,"legendY":440,"title":"Legend","titleFontSize":22,"titleFontWeight":"normal","titleColor":"#000000","labelFontSize":21,"labelColor":"#000000","symbolSize":125,"symbolStrokeWidth":1.3,"rowPadding":10,"titlePadding":10,"labelOffset":12,"padding":0,"symbolOffset":6}}}}
 ],
 "resolve":{"axis":{"x":"independent","y":"independent"}}},
{"width":121,"height":443,"data":{"values":[{}]},"mark":{"type":"text","text":""}},
{"width":92,"height":443,"data":{"values":[{}]},"mark":{"type":"text","text":""},"view":{"fill":"#ebebeb","stroke":null}},

{"width":56,"height":38,"data":{"values":[{}]},"mark":{"type":"text","text":""},"view":{"fill":"#ebebeb","stroke":null}},
{"width":79,"height":38,"data":{"values":[{"t":"variate 2"}]},"mark":{"type":"text","angle":270,"fontSize":20,"color":"#000000","dx":-22,"dy":-16.5},"encoding":{"text":{"field":"t"}}},
{"width":486,"height":38,"data":{"values":[{}]},"mark":{"type":"text","text":""}},
{"width":51,"height":38,"data":{"values":[{}]},"mark":{"type":"text","text":""}},
{"width":486,"height":38,"data":{"values":[{}]},"mark":{"type":"text","text":""}},
{"width":121,"height":38,"data":{"values":[{}]},"mark":{"type":"text","text":""}},
{"width":92,"height":38,"data":{"values":[{}]},"mark":{"type":"text","text":""},"view":{"fill":"#ebebeb","stroke":null}},

{"width":56,"height":46,"data":{"values":[{}]},"mark":{"type":"text","text":""},"view":{"fill":"#ebebeb","stroke":null}},
{"width":79,"height":46,"data":{"values":[{}]},"mark":{"type":"text","text":""}},
{"width":486,"height":46,"data":{"values":[{"t":"Block: proteomics"}]},"mark":{"type":"text","fontSize":29,"fontWeight":"bold","color":"#1a1a1a"},"encoding":{"text":{"field":"t"}},"view":{"fill":"#d9d9d9","stroke":"#333333","strokeWidth":1.5}},
{"width":51,"height":46,"data":{"values":[{}]},"mark":{"type":"text","text":""}},
{"width":486,"height":46,"data":{"values":[{"t":"Block: transcriptomics"}]},"mark":{"type":"text","fontSize":29,"fontWeight":"bold","color":"#1a1a1a"},"encoding":{"text":{"field":"t"}},"view":{"fill":"#d9d9d9","stroke":"#333333","strokeWidth":1.5}},
{"width":121,"height":46,"data":{"values":[{}]},"mark":{"type":"text","text":""}},
{"width":92,"height":46,"data":{"values":[{}]},"mark":{"type":"text","text":""},"view":{"fill":"#ebebeb","stroke":null}},

{"width":56,"height":442,"data":{"values":[{}]},"mark":{"type":"text","text":""},"view":{"fill":"#ebebeb","stroke":null}},
{"width":79,"height":442,"data":{"values":[{}]},"mark":{"type":"text","text":""}},
{"width":486,"height":442,"view":{"stroke":"#333333","strokeWidth":1.5},
 "layer":[
  {"data":{"name":"ell"},"transform":[{"filter":"datum.p == 'T3'"}],"mark":{"type":"line","interpolate":"cardinal-closed","strokeWidth":2},
   "encoding":{"x":{"field":"x","type":"quantitative","scale":{"domain":[-10.25,7.27],"nice":false,"zero":false},"axis":{"orient":"top","values":[-7.5,-2.5,2.5],"labels":false,"ticks":false,"gridWidth":0.8,"title":null}},
    "y":{"field":"y","type":"quantitative","scale":{"domain":[-8.02,5.51],"nice":false,"zero":false},"axis":{"orient":"right","values":[-6.25,-3.75,-1.25,1.25,3.75],"labels":false,"ticks":false,"gridWidth":0.8,"title":null}},
    "stroke":{"field":"g","type":"nominal","scale":{"domain":["R","NR"],"range":["#F68B33","#388ECC"]},"legend":null},
    "order":{"field":"i","type":"quantitative"}}},
  {"data":{"name":"pts"},"transform":[{"filter":"datum.p == 'T3'"}],"mark":{"type":"point","filled":false,"size":125,"strokeWidth":1.3},
   "encoding":{"x":{"field":"x","type":"quantitative","scale":{"domain":[-10.25,7.27],"nice":false,"zero":false},"axis":{"orient":"bottom","values":[-10,-5,0,5],"labelExpr":"replace(datum.label, '−', '-')","title":null}},
    "y":{"field":"y","type":"quantitative","scale":{"domain":[-8.02,5.51],"nice":false,"zero":false},"axis":{"orient":"left","values":[-7.5,-5,-2.5,0,2.5,5],"format":".1f","labelExpr":"replace(datum.label, '−', '-')","title":null}},
    "color":{"field":"g","type":"nominal","scale":{"domain":["NR","R"],"range":["#388ECC","#F68B33"]},"legend":null},
    "shape":{"field":"g","type":"nominal","scale":{"domain":["NR","R"],"range":["circle","M0,-1.52L1.93,1.52L-1.93,1.52Z"]},"legend":null}}}
 ],
 "resolve":{"axis":{"x":"independent","y":"independent"}}},
{"width":51,"height":442,"data":{"values":[{}]},"mark":{"type":"text","text":""}},
{"width":486,"height":442,"view":{"stroke":"#333333","strokeWidth":1.5},
 "layer":[
  {"data":{"name":"ell"},"transform":[{"filter":"datum.p == 'T4'"}],"mark":{"type":"line","interpolate":"cardinal-closed","strokeWidth":2},
   "encoding":{"x":{"field":"x","type":"quantitative","scale":{"domain":[-10.25,7.27],"nice":false,"zero":false},"axis":{"orient":"top","values":[-7.5,-2.5,2.5],"labels":false,"ticks":false,"gridWidth":0.8,"title":null}},
    "y":{"field":"y","type":"quantitative","scale":{"domain":[-8.02,5.51],"nice":false,"zero":false},"axis":{"orient":"right","values":[-6.25,-3.75,-1.25,1.25,3.75],"labels":false,"ticks":false,"gridWidth":0.8,"title":null}},
    "stroke":{"field":"g","type":"nominal","scale":{"domain":["R","NR"],"range":["#F68B33","#388ECC"]},"legend":null},
    "order":{"field":"i","type":"quantitative"}}},
  {"data":{"name":"pts"},"transform":[{"filter":"datum.p == 'T4'"}],"mark":{"type":"point","filled":false,"size":125,"strokeWidth":1.3},
   "encoding":{"x":{"field":"x","type":"quantitative","scale":{"domain":[-10.25,7.27],"nice":false,"zero":false},"axis":{"orient":"bottom","values":[-10,-5,0,5],"labelExpr":"replace(datum.label, '−', '-')","title":null}},
    "y":{"field":"y","type":"quantitative","scale":{"domain":[-8.02,5.51],"nice":false,"zero":false},"axis":{"orient":"left","values":[-7.5,-5,-2.5,0,2.5,5],"format":".1f","labelExpr":"replace(datum.label, '−', '-')","title":null}},
    "color":{"field":"g","type":"nominal","scale":{"domain":["NR","R"],"range":["#388ECC","#F68B33"]},"legend":null},
    "shape":{"field":"g","type":"nominal","scale":{"domain":["NR","R"],"range":["circle","M0,-1.52L1.93,1.52L-1.93,1.52Z"]},"legend":null}}}
 ],
 "resolve":{"axis":{"x":"independent","y":"independent"}}},
{"width":121,"height":442,"data":{"values":[{}]},"mark":{"type":"text","text":""}},
{"width":92,"height":442,"data":{"values":[{}]},"mark":{"type":"text","text":""},"view":{"fill":"#ebebeb","stroke":null}},

{"width":56,"height":71,"data":{"values":[{}]},"mark":{"type":"text","text":""},"view":{"fill":"#ebebeb","stroke":null}},
{"width":79,"height":71,"data":{"values":[{}]},"mark":{"type":"text","text":""}},
{"width":486,"height":71,"data":{"values":[{}]},"mark":{"type":"text","text":""}},
{"width":51,"height":71,"data":{"values":[{"t":"variate 1"}]},"mark":{"type":"text","fontSize":20,"color":"#000000","dy":7.5},"encoding":{"text":{"field":"t"}}},
{"width":486,"height":71,"data":{"values":[{}]},"mark":{"type":"text","text":""}},
{"width":121,"height":71,"data":{"values":[{}]},"mark":{"type":"text","text":""}},
{"width":92,"height":71,"data":{"values":[{}]},"mark":{"type":"text","text":""},"view":{"fill":"#ebebeb","stroke":null}},

{"width":56,"height":85,"data":{"values":[{}]},"mark":{"type":"text","text":""},"view":{"fill":"#ebebeb","stroke":null}},
{"width":79,"height":85,"data":{"values":[{}]},"mark":{"type":"text","text":""},"view":{"fill":"#ebebeb","stroke":null}},
{"width":486,"height":85,"data":{"values":[{}]},"mark":{"type":"text","text":""},"view":{"fill":"#ebebeb","stroke":null}},
{"width":51,"height":85,"data":{"values":[{}]},"mark":{"type":"text","text":""},"view":{"fill":"#ebebeb","stroke":null}},
{"width":486,"height":85,"data":{"values":[{}]},"mark":{"type":"text","text":""},"view":{"fill":"#ebebeb","stroke":null}},
{"width":121,"height":85,"data":{"values":[{}]},"mark":{"type":"text","text":""},"view":{"fill":"#ebebeb","stroke":null}},
{"width":92,"height":85,"data":{"values":[{"t":"Tumor"}]},"mark":{"type":"text","font":"Lato","fontWeight":"bold","fontSize":42,"color":"#000000","dx":-665,"dy":18.5},"encoding":{"text":{"field":"t"}},"view":{"fill":"#ebebeb","stroke":null}}
]
},
{
"columns": 5,
"spacing": 0,
"align": "none",
"bounds": "flush",
"resolve": {"scale": {"color": "independent", "shape": "independent", "stroke": "independent"}, "legend": {"color": "independent", "shape": "independent", "stroke": "independent"}},
"concat": [
{"width":63,"height":15,"data":{"values":[{}]},"mark":{"type":"text","text":""},"view":{"fill":"#ebebeb","stroke":null}},
{"width":509,"height":15,"data":{"values":[{}]},"mark":{"type":"text","text":""},"view":{"fill":"#ebebeb","stroke":null}},
{"width":37,"height":15,"data":{"values":[{}]},"mark":{"type":"text","text":""},"view":{"fill":"#ebebeb","stroke":null}},
{"width":509,"height":15,"data":{"values":[{}]},"mark":{"type":"text","text":""},"view":{"fill":"#ebebeb","stroke":null}},
{"width":72,"height":15,"data":{"values":[{}]},"mark":{"type":"text","text":""},"view":{"fill":"#ebebeb","stroke":null}},

{"width":63,"height":10,"data":{"values":[{}]},"mark":{"type":"text","text":""}},
{"width":509,"height":10,"data":{"values":[{}]},"mark":{"type":"text","text":""}},
{"width":37,"height":10,"data":{"values":[{}]},"mark":{"type":"text","text":""}},
{"width":509,"height":10,"data":{"values":[{}]},"mark":{"type":"text","text":""}},
{"width":72,"height":10,"data":{"values":[{}]},"mark":{"type":"text","text":""}},

{"width":63,"height":47,"data":{"values":[{}]},"mark":{"type":"text","text":""}},
{"width":509,"height":47,"data":{"values":[{"t":"Block: metabolomics_neg"}]},"mark":{"type":"text","fontSize":30,"fontWeight":"bold","color":"#1a1a1a"},"encoding":{"text":{"field":"t"}},"view":{"fill":"#d9d9d9","stroke":"#333333","strokeWidth":1.5}},
{"width":37,"height":47,"data":{"values":[{}]},"mark":{"type":"text","text":""}},
{"width":509,"height":47,"data":{"values":[{"t":"Block: metabolomics_pos"}]},"mark":{"type":"text","fontSize":30,"fontWeight":"bold","color":"#1a1a1a"},"encoding":{"text":{"field":"t"}},"view":{"fill":"#d9d9d9","stroke":"#333333","strokeWidth":1.5}},
{"width":72,"height":47,"data":{"values":[{}]},"mark":{"type":"text","text":""}},

{"width":63,"height":451,"data":{"values":[{}]},"mark":{"type":"text","text":""}},
{"width":509,"height":451,"view":{"stroke":"#333333","strokeWidth":1.5},
 "layer":[
  {"data":{"name":"ell"},"transform":[{"filter":"datum.p == 'I1'"}],"mark":{"type":"line","interpolate":"cardinal-closed","strokeWidth":2},
   "encoding":{"x":{"field":"x","type":"quantitative","scale":{"domain":[-5.12,6.28],"nice":false,"zero":false},"axis":{"orient":"top","values":[-4.5,-1.5,1.5,4.5],"labels":false,"ticks":false,"gridWidth":0.8,"title":null}},
    "y":{"field":"y","type":"quantitative","scale":{"domain":[-6.92,6.53],"nice":false,"zero":false},"axis":{"orient":"right","values":[-4.5,-1.5,1.5,4.5],"labels":false,"ticks":false,"gridWidth":0.8,"title":null}},
    "stroke":{"field":"g","type":"nominal","scale":{"domain":["R","NR"],"range":["#F68B33","#388ECC"]},"legend":null},
    "order":{"field":"i","type":"quantitative"}}},
  {"data":{"name":"pts"},"transform":[{"filter":"datum.p == 'I1'"}],"mark":{"type":"point","filled":false,"size":125,"strokeWidth":1.3},
   "encoding":{"x":{"field":"x","type":"quantitative","scale":{"domain":[-5.12,6.28],"nice":false,"zero":false},"axis":{"orient":"bottom","values":[-3,0,3,6],"labelExpr":"replace(datum.label, '−', '-')","title":null}},
    "y":{"field":"y","type":"quantitative","scale":{"domain":[-6.92,6.53],"nice":false,"zero":false},"axis":{"orient":"left","values":[-6,-3,0,3,6],"labelExpr":"replace(datum.label, '−', '-')","title":null}},
    "color":{"field":"g","type":"nominal","scale":{"domain":["NR","R"],"range":["#388ECC","#F68B33"]},"legend":null},
    "shape":{"field":"g","type":"nominal","scale":{"domain":["NR","R"],"range":["circle","M0,-1.52L1.93,1.52L-1.93,1.52Z"]},"legend":null}}}
 ],
 "resolve":{"axis":{"x":"independent","y":"independent"}}},
{"width":37,"height":451,"data":{"values":[{}]},"mark":{"type":"text","text":""}},
{"width":509,"height":451,"view":{"stroke":"#333333","strokeWidth":1.5},
 "layer":[
  {"data":{"name":"ell"},"transform":[{"filter":"datum.p == 'I2'"}],"mark":{"type":"line","interpolate":"cardinal-closed","strokeWidth":2},
   "encoding":{"x":{"field":"x","type":"quantitative","scale":{"domain":[-5.12,6.28],"nice":false,"zero":false},"axis":{"orient":"top","values":[-4.5,-1.5,1.5,4.5],"labels":false,"ticks":false,"gridWidth":0.8,"title":null}},
    "y":{"field":"y","type":"quantitative","scale":{"domain":[-6.92,6.53],"nice":false,"zero":false},"axis":{"orient":"right","values":[-4.5,-1.5,1.5,4.5],"labels":false,"ticks":false,"gridWidth":0.8,"title":null}},
    "stroke":{"field":"g","type":"nominal","scale":{"domain":["R","NR"],"range":["#F68B33","#388ECC"]},"legend":null},
    "order":{"field":"i","type":"quantitative"}}},
  {"data":{"name":"pts"},"transform":[{"filter":"datum.p == 'I2'"}],"mark":{"type":"point","filled":false,"size":125,"strokeWidth":1.3},
   "encoding":{"x":{"field":"x","type":"quantitative","scale":{"domain":[-5.12,6.28],"nice":false,"zero":false},"axis":{"orient":"bottom","values":[-3,0,3,6],"labelExpr":"replace(datum.label, '−', '-')","title":null}},
    "y":{"field":"y","type":"quantitative","scale":{"domain":[-6.92,6.53],"nice":false,"zero":false},"axis":{"orient":"left","values":[-6,-3,0,3,6],"labelExpr":"replace(datum.label, '−', '-')","title":null}},
    "color":{"field":"g","type":"nominal","scale":{"domain":["NR","R"],"range":["#388ECC","#F68B33"]},"legend":{"orient":"none","legendX":538,"legendY":452,"title":"Legend","titleFontSize":22,"titleFontWeight":"normal","titleColor":"#000000","labelFontSize":21,"labelColor":"#000000","symbolSize":125,"symbolStrokeWidth":1.3,"rowPadding":10,"titlePadding":10,"labelOffset":12,"padding":0,"symbolOffset":6}},
    "shape":{"field":"g","type":"nominal","scale":{"domain":["NR","R"],"range":["circle","M0,-1.52L1.93,1.52L-1.93,1.52Z"]},"legend":{"orient":"none","legendX":538,"legendY":452,"title":"Legend","titleFontSize":22,"titleFontWeight":"normal","titleColor":"#000000","labelFontSize":21,"labelColor":"#000000","symbolSize":125,"symbolStrokeWidth":1.3,"rowPadding":10,"titlePadding":10,"labelOffset":12,"padding":0,"symbolOffset":6}}}}
 ],
 "resolve":{"axis":{"x":"independent","y":"independent"}}},
{"width":72,"height":451,"data":{"values":[{}]},"mark":{"type":"text","text":""}},

{"width":63,"height":40,"data":{"values":[{"t":"variate 2"}]},"mark":{"type":"text","angle":270,"fontSize":20,"color":"#000000","dx":-23.5,"dy":-10.5},"encoding":{"text":{"field":"t"}}},
{"width":509,"height":40,"data":{"values":[{}]},"mark":{"type":"text","text":""}},
{"width":37,"height":40,"data":{"values":[{}]},"mark":{"type":"text","text":""}},
{"width":509,"height":40,"data":{"values":[{}]},"mark":{"type":"text","text":""}},
{"width":72,"height":40,"data":{"values":[{}]},"mark":{"type":"text","text":""}},

{"width":63,"height":47,"data":{"values":[{}]},"mark":{"type":"text","text":""}},
{"width":509,"height":47,"data":{"values":[{"t":"Block: proteomics"}]},"mark":{"type":"text","fontSize":30,"fontWeight":"bold","color":"#1a1a1a"},"encoding":{"text":{"field":"t"}},"view":{"fill":"#d9d9d9","stroke":"#333333","strokeWidth":1.5}},
{"width":37,"height":47,"data":{"values":[{}]},"mark":{"type":"text","text":""}},
{"width":509,"height":47,"data":{"values":[{"t":"Block: transcriptomics"}]},"mark":{"type":"text","fontSize":30,"fontWeight":"bold","color":"#1a1a1a"},"encoding":{"text":{"field":"t"}},"view":{"fill":"#d9d9d9","stroke":"#333333","strokeWidth":1.5}},
{"width":72,"height":47,"data":{"values":[{}]},"mark":{"type":"text","text":""}},

{"width":63,"height":451,"data":{"values":[{}]},"mark":{"type":"text","text":""}},
{"width":509,"height":451,"view":{"stroke":"#333333","strokeWidth":1.5},
 "layer":[
  {"data":{"name":"ell"},"transform":[{"filter":"datum.p == 'I3'"}],"mark":{"type":"line","interpolate":"cardinal-closed","strokeWidth":2},
   "encoding":{"x":{"field":"x","type":"quantitative","scale":{"domain":[-5.12,6.28],"nice":false,"zero":false},"axis":{"orient":"top","values":[-4.5,-1.5,1.5,4.5],"labels":false,"ticks":false,"gridWidth":0.8,"title":null}},
    "y":{"field":"y","type":"quantitative","scale":{"domain":[-6.92,6.53],"nice":false,"zero":false},"axis":{"orient":"right","values":[-4.5,-1.5,1.5,4.5],"labels":false,"ticks":false,"gridWidth":0.8,"title":null}},
    "stroke":{"field":"g","type":"nominal","scale":{"domain":["R","NR"],"range":["#F68B33","#388ECC"]},"legend":null},
    "order":{"field":"i","type":"quantitative"}}},
  {"data":{"name":"pts"},"transform":[{"filter":"datum.p == 'I3'"}],"mark":{"type":"point","filled":false,"size":125,"strokeWidth":1.3},
   "encoding":{"x":{"field":"x","type":"quantitative","scale":{"domain":[-5.12,6.28],"nice":false,"zero":false},"axis":{"orient":"bottom","values":[-3,0,3,6],"labelExpr":"replace(datum.label, '−', '-')","title":null}},
    "y":{"field":"y","type":"quantitative","scale":{"domain":[-6.92,6.53],"nice":false,"zero":false},"axis":{"orient":"left","values":[-6,-3,0,3,6],"labelExpr":"replace(datum.label, '−', '-')","title":null}},
    "color":{"field":"g","type":"nominal","scale":{"domain":["NR","R"],"range":["#388ECC","#F68B33"]},"legend":null},
    "shape":{"field":"g","type":"nominal","scale":{"domain":["NR","R"],"range":["circle","M0,-1.52L1.93,1.52L-1.93,1.52Z"]},"legend":null}}}
 ],
 "resolve":{"axis":{"x":"independent","y":"independent"}}},
{"width":37,"height":451,"data":{"values":[{}]},"mark":{"type":"text","text":""}},
{"width":509,"height":451,"view":{"stroke":"#333333","strokeWidth":1.5},
 "layer":[
  {"data":{"name":"ell"},"transform":[{"filter":"datum.p == 'I4'"}],"mark":{"type":"line","interpolate":"cardinal-closed","strokeWidth":2},
   "encoding":{"x":{"field":"x","type":"quantitative","scale":{"domain":[-5.12,6.28],"nice":false,"zero":false},"axis":{"orient":"top","values":[-4.5,-1.5,1.5,4.5],"labels":false,"ticks":false,"gridWidth":0.8,"title":null}},
    "y":{"field":"y","type":"quantitative","scale":{"domain":[-6.92,6.53],"nice":false,"zero":false},"axis":{"orient":"right","values":[-4.5,-1.5,1.5,4.5],"labels":false,"ticks":false,"gridWidth":0.8,"title":null}},
    "stroke":{"field":"g","type":"nominal","scale":{"domain":["R","NR"],"range":["#F68B33","#388ECC"]},"legend":null},
    "order":{"field":"i","type":"quantitative"}}},
  {"data":{"name":"pts"},"transform":[{"filter":"datum.p == 'I4'"}],"mark":{"type":"point","filled":false,"size":125,"strokeWidth":1.3},
   "encoding":{"x":{"field":"x","type":"quantitative","scale":{"domain":[-5.12,6.28],"nice":false,"zero":false},"axis":{"orient":"bottom","values":[-3,0,3,6],"labelExpr":"replace(datum.label, '−', '-')","title":null}},
    "y":{"field":"y","type":"quantitative","scale":{"domain":[-6.92,6.53],"nice":false,"zero":false},"axis":{"orient":"left","values":[-6,-3,0,3,6],"labelExpr":"replace(datum.label, '−', '-')","title":null}},
    "color":{"field":"g","type":"nominal","scale":{"domain":["NR","R"],"range":["#388ECC","#F68B33"]},"legend":null},
    "shape":{"field":"g","type":"nominal","scale":{"domain":["NR","R"],"range":["circle","M0,-1.52L1.93,1.52L-1.93,1.52Z"]},"legend":null}}}
 ],
 "resolve":{"axis":{"x":"independent","y":"independent"}}},
{"width":72,"height":451,"data":{"values":[{}]},"mark":{"type":"text","text":""}},

{"width":63,"height":63,"data":{"values":[{}]},"mark":{"type":"text","text":""}},
{"width":509,"height":63,"data":{"values":[{}]},"mark":{"type":"text","text":""}},
{"width":37,"height":63,"data":{"values":[{"t":"variate 1"}]},"mark":{"type":"text","fontSize":20,"color":"#000000","dy":9.5},"encoding":{"text":{"field":"t"}}},
{"width":509,"height":63,"data":{"values":[{}]},"mark":{"type":"text","text":""}},
{"width":72,"height":63,"data":{"values":[{}]},"mark":{"type":"text","text":""}},

{"width":63,"height":85,"data":{"values":[{}]},"mark":{"type":"text","text":""},"view":{"fill":"#ebebeb","stroke":null}},
{"width":509,"height":85,"data":{"values":[{}]},"mark":{"type":"text","text":""},"view":{"fill":"#ebebeb","stroke":null}},
{"width":37,"height":85,"data":{"values":[{}]},"mark":{"type":"text","text":""},"view":{"fill":"#ebebeb","stroke":null}},
{"width":509,"height":85,"data":{"values":[{}]},"mark":{"type":"text","text":""},"view":{"fill":"#ebebeb","stroke":null}},
{"width":72,"height":85,"data":{"values":[{"t":"Interface"}]},"mark":{"type":"text","font":"Lato","fontWeight":"bold","fontSize":42,"color":"#000000","dx":-544,"dy":24.5},"encoding":{"text":{"field":"t"}},"view":{"fill":"#ebebeb","stroke":null}}
]
}
]
}
